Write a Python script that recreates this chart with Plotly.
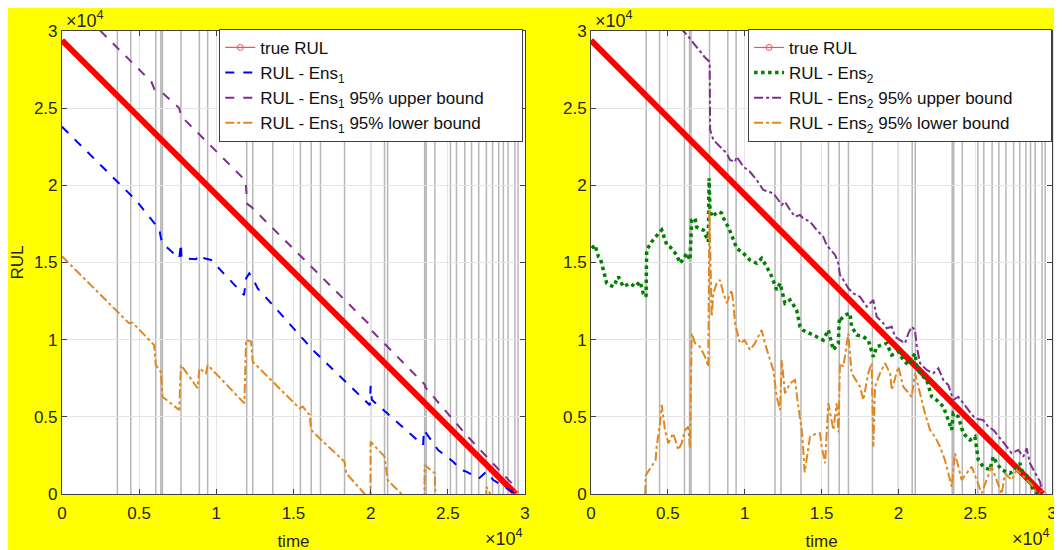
import plotly.graph_objects as go

# ---------------- data (time and RUL in units of 1e4) ----------------
event_times = [0.359, 0.446, 0.608, 0.641, 0.651, 0.771, 0.89, 0.944, 1.197, 1.236,
               1.366, 1.545, 1.615, 1.675, 1.831, 2.0, 2.09, 2.11, 2.35, 2.36, 2.416,
               2.517, 2.556, 2.61, 2.654, 2.70, 2.75, 2.79, 2.83, 2.86, 2.89, 2.935, 2.955]

true_t = [0.0, 2.94]
true_rul = [2.94, 0.0]

ens1_t = [0.0, 0.478, 0.608, 0.63, 0.641, 0.651, 0.76, 0.771, 0.775, 0.868, 0.89, 0.91, 0.966,
          1.18, 1.193, 1.214, 1.235, 1.268, 1.366, 1.626, 1.995, 2.0, 2.008, 2.253, 2.34, 2.345,
          2.437, 2.535, 2.589, 2.62, 2.70, 2.75, 2.795, 2.94]
ens1_v = [2.38, 1.905, 1.743, 1.72, 1.66, 1.624, 1.527, 1.624, 1.527, 1.521, 1.55, 1.53, 1.516,
          1.289, 1.397, 1.43, 1.40, 1.332, 1.224, 0.933, 0.575, 0.70, 0.61, 0.393, 0.317, 0.415,
          0.285, 0.209, 0.155, 0.145, 0.10, 0.145, 0.09, 0.0]

ens1_up_t = [0.0, 0.58, 0.60, 0.65, 0.76, 0.77, 1.19, 1.20, 1.225, 2.0, 2.005, 2.35, 2.355,
             2.62, 2.913, 2.935]
ens1_up_v = [3.25, 2.67, 2.62, 2.60, 2.50, 2.45, 2.03, 1.88, 1.862, 1.09, 1.06, 0.71, 0.69,
             0.382, 0.07, 0.02]

ens1_lo_t = [0.0, 0.37, 0.435, 0.457, 0.597, 0.608, 0.641, 0.651, 0.76, 0.771, 0.879, 0.89,
             0.933, 0.944, 1.182, 1.193, 1.225, 1.236, 1.355, 1.539, 1.56, 1.604, 1.615, 1.669,
             1.831, 1.842, 1.97, 1.999, 2.0, 2.09, 2.11, 2.23, 2.349, 2.35, 2.416, 2.42, 2.749,
             2.75, 2.78]
ens1_lo_v = [1.54, 1.171, 1.106, 1.11, 0.965, 0.836, 0.79, 0.63, 0.544, 0.836, 0.685, 0.814,
             0.782, 0.836, 0.588, 0.998, 0.987, 0.857, 0.739, 0.555, 0.566, 0.512, 0.415, 0.361,
             0.209, 0.134, -0.01, -0.05, 0.339, 0.242, 0.09, -0.03, -0.03, 0.188, 0.134, -0.03,
             -0.03, 0.047, -0.01]

ens2_t = [0.005, 0.026, 0.048, 0.06, 0.08, 0.102, 0.145, 0.178, 0.21, 0.254, 0.286, 0.319, 0.34,
          0.358, 0.362, 0.395, 0.449, 0.46, 0.493, 0.515, 0.557, 0.579, 0.60, 0.623, 0.644, 0.655,
          0.677, 0.687, 0.731, 0.763, 0.768, 0.774, 0.785, 0.828, 0.85, 0.872, 0.894, 0.926, 0.948,
          0.991, 1.034, 1.078, 1.11, 1.143, 1.176, 1.208, 1.23, 1.262, 1.295, 1.338, 1.36, 1.381,
          1.425, 1.468, 1.511, 1.544, 1.577, 1.609, 1.616, 1.62, 1.653, 1.685, 1.696, 1.729, 1.772,
          1.804, 1.837, 1.859, 1.924, 1.957, 2.0, 2.032, 2.065, 2.108, 2.12, 2.141, 2.184, 2.217,
          2.249, 2.292, 2.325, 2.347, 2.357, 2.39, 2.422, 2.466, 2.498, 2.52, 2.552, 2.596, 2.618,
          2.64, 2.672, 2.726, 2.759, 2.791, 2.81, 2.845, 2.878, 2.9, 2.92]
ens2_v = [1.592, 1.613, 1.538, 1.53, 1.451, 1.365, 1.343, 1.408, 1.343, 1.365, 1.343, 1.376, 1.30,
          1.278, 1.581, 1.635, 1.70, 1.711, 1.613, 1.60, 1.549, 1.495, 1.52, 1.56, 1.516, 1.775,
          1.786, 1.73, 1.71, 1.635, 2.046, 1.851, 1.797, 1.829, 1.82, 1.764, 1.73, 1.646, 1.592,
          1.56, 1.516, 1.495, 1.527, 1.473, 1.408, 1.322, 1.365, 1.236, 1.257, 1.192, 1.084, 1.06,
          1.041, 1.019, 0.997, 1.063, 0.933, 0.976, 1.138, 1.127, 1.16, 1.171, 1.084, 1.03, 1.019,
          0.997, 0.889, 0.954, 0.976, 0.90, 0.922, 0.868, 0.836, 0.911, 0.824, 0.782, 0.739, 0.63,
          0.609, 0.566, 0.479, 0.415, 0.523, 0.501, 0.393, 0.35, 0.371, 0.22, 0.177, 0.156, 0.242,
          0.199, 0.156, 0.134, 0.156, 0.199, 0.134, 0.112, 0.026, 0.005, 0.01]

ens2_up_t = [0.58, 0.62, 0.66, 0.70, 0.74, 0.772, 0.775, 0.796, 0.839, 0.883, 0.904, 0.937, 0.948,
             0.991, 1.034, 1.078, 1.121, 1.154, 1.186, 1.219, 1.241, 1.262, 1.295, 1.327, 1.36,
             1.381, 1.425, 1.468, 1.511, 1.533, 1.566, 1.588, 1.609, 1.62, 1.642, 1.674, 1.707,
             1.75, 1.794, 1.837, 1.859, 1.902, 1.924, 1.957, 1.978, 2.01, 2.043, 2.065, 2.087,
             2.108, 2.12, 2.141, 2.184, 2.227, 2.26, 2.292, 2.325, 2.357, 2.39, 2.422, 2.455,
             2.498, 2.552, 2.585, 2.618, 2.672, 2.705, 2.737, 2.78, 2.813, 2.835, 2.856, 2.889,
             2.921, 2.93]
ens2_up_v = [3.02, 2.98, 2.93, 2.88, 2.83, 2.80, 2.36, 2.294, 2.25, 2.207, 2.164, 2.153, 2.186,
             2.121, 2.088, 2.035, 1.97, 1.959, 1.948, 1.905, 1.873, 1.894, 1.84, 1.797, 1.808,
             1.786, 1.764, 1.711, 1.667, 1.613, 1.57, 1.549, 1.495, 1.419, 1.387, 1.333, 1.30,
             1.278, 1.214, 1.257, 1.149, 1.106, 1.074, 1.084, 1.019, 0.997, 0.976, 1.041, 1.084,
             1.063, 0.954, 0.847, 0.803, 0.782, 0.814, 0.739, 0.706, 0.609, 0.63, 0.588, 0.544,
             0.49, 0.479, 0.436, 0.415, 0.35, 0.307, 0.264, 0.285, 0.242, 0.296, 0.199, 0.134,
             0.08, 0.04]

ens2_lo_t = [0.352, 0.356, 0.376, 0.42, 0.427, 0.449, 0.46, 0.481, 0.503, 0.535, 0.568, 0.59,
             0.612, 0.633, 0.644, 0.655, 0.677, 0.709, 0.742, 0.763, 0.77, 0.785, 0.796, 0.817,
             0.839, 0.861, 0.883, 0.915, 0.926, 0.937, 0.969, 1.0, 1.034, 1.066, 1.11, 1.132,
             1.165, 1.186, 1.208, 1.23, 1.241, 1.262, 1.295, 1.327, 1.349, 1.371, 1.381, 1.39,
             1.425, 1.468, 1.49, 1.501, 1.523, 1.544, 1.577, 1.598, 1.61, 1.62, 1.642, 1.674,
             1.696, 1.75, 1.772, 1.804, 1.826, 1.837, 1.848, 1.88, 1.913, 1.946, 1.957, 2.0,
             2.032, 2.087, 2.108, 2.13, 2.173, 2.206, 2.238, 2.271, 2.303, 2.325, 2.347, 2.368,
             2.412, 2.477, 2.542, 2.607, 2.672, 2.694, 2.737, 2.77, 2.878, 2.9]
ens2_lo_v = [0.0, 0.12, 0.152, 0.218, 0.306, 0.458, 0.577, 0.415, 0.328, 0.393, 0.285, 0.33,
             0.415, 0.436, 0.30, 1.041, 0.976, 0.954, 0.889, 0.825, 1.84, 1.149, 1.30, 1.365,
             1.387, 1.30, 1.236, 1.322, 1.236, 1.106, 0.976, 0.997, 0.933, 0.976, 1.063, 0.976,
             0.868, 0.803, 0.63, 0.544, 0.868, 0.652, 0.717, 0.739, 0.566, 0.415, 0.285, 0.14,
             0.371, 0.393, 0.393, 0.306, 0.199, 0.588, 0.415, 0.588, 0.40, 0.847, 0.825, 1.041,
             0.782, 0.695, 0.609, 0.782, 0.847, 0.306, 0.695, 0.782, 0.847, 0.782, 0.674, 0.825,
             0.695, 0.63, 0.782, 0.695, 0.523, 0.415, 0.371, 0.306, 0.22, 0.134, 0.047, 0.264,
             0.091, 0.177, 0.005, 0.177, 0.0, 0.134, 0.091, 0.156, 0.05, 0.0]

tick_vals = [0, 0.5, 1, 1.5, 2, 2.5, 3]
tick_text = ["0", "0.5", "1", "1.5", "2", "2.5", "3"]

# ---------------- styling ----------------
FONT = "Liberation Sans"
TXT = "#262626"
RED = "#FF0000"
BLUE = "#0000FF"
PURPLE = "#7E2F8E"
ORANGE = "#E0881F"
GREEN = "#008000"
PAD = "\u00a0" * 7   # trailing space inside the legend box

fig = go.Figure()


def add_true(xa, ya, leg):
    fig.add_trace(go.Scatter(x=true_t, y=true_rul, mode="lines+markers", showlegend=False,
                             line=dict(color=RED, width=6),
                             marker=dict(symbol="circle-open", size=[0, 7], color="#FF7070"),
                             xaxis=xa, yaxis=ya, hoverinfo="skip"))
    fig.add_trace(go.Scatter(x=[None], y=[None], mode="lines+markers", name="true RUL",
                             line=dict(color="#FF5050", width=1.2),
                             marker=dict(symbol="circle-open", size=6, color="#FF5050"),
                             xaxis=xa, yaxis=ya, legend=leg))


# left panel
add_true("x", "y", "legend")
fig.add_trace(go.Scatter(x=ens1_t, y=ens1_v, mode="lines", name="RUL - Ens<sub>1</sub>",
                         line=dict(color=BLUE, width=2, dash="dash"),
                         xaxis="x", yaxis="y", legend="legend"))
fig.add_trace(go.Scatter(x=ens1_up_t, y=ens1_up_v, mode="lines",
                         name="RUL - Ens<sub>1</sub> 95% upper bound" + PAD,
                         line=dict(color=PURPLE, width=2, dash="dash"),
                         xaxis="x", yaxis="y", legend="legend"))
fig.add_trace(go.Scatter(x=ens1_lo_t, y=ens1_lo_v, mode="lines",
                         name="RUL - Ens<sub>1</sub> 95% lower bound",
                         line=dict(color=ORANGE, width=2, dash="dashdot"),
                         xaxis="x", yaxis="y", legend="legend"))

# right panel
add_true("x2", "y2", "legend2")
fig.add_trace(go.Scatter(x=ens2_t, y=ens2_v, mode="lines", name="RUL - Ens<sub>2</sub>",
                         line=dict(color=GREEN, width=3.5, dash="dot"),
                         xaxis="x2", yaxis="y2", legend="legend2"))
fig.add_trace(go.Scatter(x=ens2_up_t, y=ens2_up_v, mode="lines",
                         name="RUL - Ens<sub>2</sub> 95% upper bound" + PAD,
                         line=dict(color=PURPLE, width=2, dash="dashdot"),
                         xaxis="x2", yaxis="y2", legend="legend2"))
fig.add_trace(go.Scatter(x=ens2_lo_t, y=ens2_lo_v, mode="lines",
                         name="RUL - Ens<sub>2</sub> 95% lower bound",
                         line=dict(color=ORANGE, width=2, dash="dashdot"),
                         xaxis="x2", yaxis="y2", legend="legend2"))

shapes = []
for xref, yref in (("x", "y domain"), ("x2", "y2 domain")):
    for t in event_times:
        shapes.append(dict(type="line", xref=xref, yref=yref,
                           x0=t, x1=t, y0=0, y1=1, layer="below",
                           line=dict(color="rgba(110,110,110,0.5)", width=1.5)))

axis_common = dict(range=[0, 3], tickvals=tick_vals, ticktext=tick_text, ticks="inside",
                   ticklen=5, tickcolor="#404040", showline=True, linecolor="#404040",
                   linewidth=1, mirror="ticks", showgrid=True, gridcolor="#e4e4e4",
                   zeroline=False, automargin=False,
                   tickfont=dict(family=FONT, size=17, color=TXT))

XL = [0.0508, 0.4868]
XR = [0.5490, 0.9831]
YD = [0.1164, 0.9582]
leg_common = dict(xanchor="right", y=0.962, yanchor="top", bgcolor="white",
                  bordercolor="#404040", borderwidth=1, font=dict(family=FONT, size=17, color="#111"),
                  traceorder="normal", itemwidth=30)
fig.update_layout(
    width=1062, height=550,
    margin=dict(l=0, r=0, t=0, b=0, autoexpand=False),
    paper_bgcolor="#FFFF00", plot_bgcolor="#FFFFFF",
    font=dict(family=FONT, size=16, color=TXT),
    xaxis=dict(domain=XL, anchor="y", ticklabelstandoff=4,
               title=dict(text="time", font=dict(size=17), standoff=12), **axis_common),
    yaxis=dict(domain=YD, anchor="x",
               title=dict(text="RUL", font=dict(size=17), standoff=6), **axis_common),
    xaxis2=dict(domain=XR, anchor="y2", ticklabelstandoff=4,
                title=dict(text="time", font=dict(size=17), standoff=12), **axis_common),
    yaxis2=dict(domain=YD, anchor="x2", **axis_common),
    shapes=shapes,
    legend=dict(x=0.4852, **leg_common),
    legend2=dict(x=0.9831, **leg_common),
    annotations=[
        dict(text="×10<sup>4</sup>", xref="paper", yref="paper", x=0.0525, y=0.955,
             xanchor="left", yanchor="bottom", showarrow=False, font=dict(family=FONT, size=18, color=TXT)),
        dict(text="×10<sup>4</sup>", xref="paper", yref="paper", x=0.5505, y=0.955,
             xanchor="left", yanchor="bottom", showarrow=False, font=dict(family=FONT, size=18, color=TXT)),
        dict(text="×10<sup>4</sup>", xref="paper", yref="paper", x=0.4868, y=0.012,
             xanchor="right", yanchor="bottom", showarrow=False, font=dict(family=FONT, size=18, color=TXT)),
        dict(text="×10<sup>4</sup>", xref="paper", yref="paper", x=0.9831, y=0.012,
             xanchor="right", yanchor="bottom", showarrow=False, font=dict(family=FONT, size=18, color=TXT)),
    ],
)

fig.write_html("out.html")
